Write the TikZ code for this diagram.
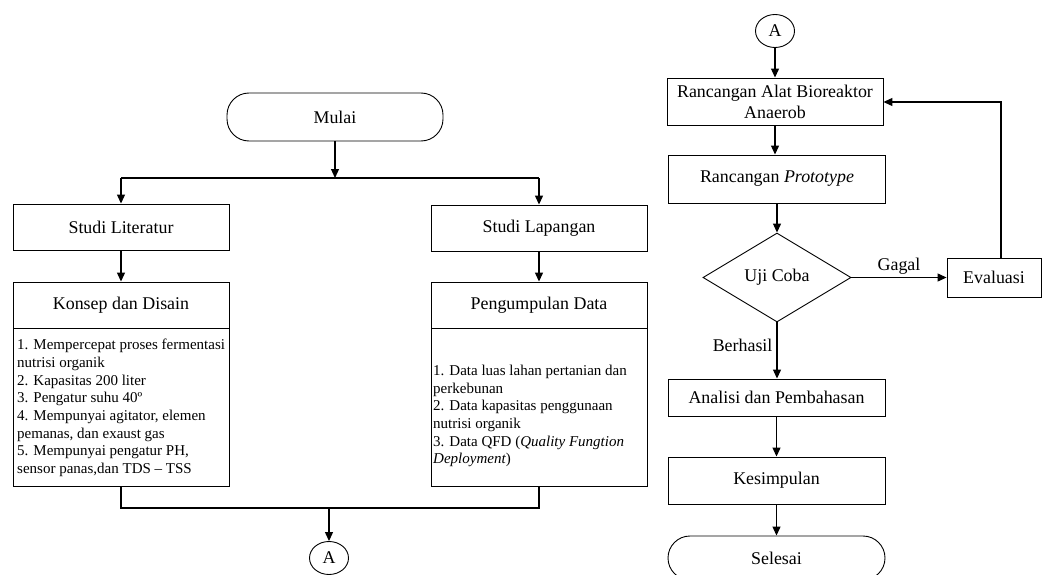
\documentclass[tikz,border=0pt]{standalone}
\usepackage{fontspec}
\setmainfont{Liberation Serif}
\usetikzlibrary{arrows.meta,shapes.geometric}
\begin{document}
\begin{tikzpicture}[x=1pt,y=-1pt,
  every node/.style={font=\fontsize{17.9}{20}\selectfont, inner sep=0pt},
  procbox/.style={draw, line width=0.9pt, rectangle, minimum width=216pt, minimum height=46pt, align=center},
  listbox/.style={draw, line width=0.9pt, rectangle, minimum width=216pt, minimum height=158pt},
  listtext/.style={font=\fontsize{15}{17.7}\selectfont, align=left, anchor=west},
  term/.style={draw, line width=0.9pt, rectangle, rounded corners=22pt, minimum width=216pt, minimum height=48pt},
  conn/.style={draw, ellipse, line width=0.9pt, minimum width=39pt, minimum height=33pt},
  dec/.style={draw, diamond, line width=0.9pt, minimum width=148pt, minimum height=89pt, aspect=1.66},
  arr/.style={line width=1.2pt, -{Triangle[length=9pt,width=8pt]}},
  ln/.style={line width=1.2pt}
]
\useasboundingbox (0,0) rectangle (1046,575);
\begin{scope}
\clip (0,0) rectangle (1046,575);
% left column
\node[term] (mulai) at (335,117) {Mulai};
\node[procbox] (slit) at (121,227) {Studi Literatur};
\node[procbox] (slap) at (539,228) {Studi Lapangan};
\node[procbox] (kons) at (121,305) {Konsep dan Disain};
\node[procbox] (peng) at (539,305) {Pengumpulan Data};
\node[listbox] (klist) at (121,407) {};
\node[listbox] (plist) at (539,407) {};
\node[listtext] (ktext) at (17,408) {1. Mempercepat proses fermentasi\\nutrisi organik\\2. Kapasitas 200 liter\\3. Pengatur suhu 40º\\4. Mempunyai agitator, elemen\\pemanas, dan exaust gas\\5. Mempunyai pengatur PH,\\sensor panas,dan TDS -- TSS};
\node[listtext] (ptext) at (433,416) {1. Data luas lahan pertanian dan\\perkebunan\\2. Data kapasitas penggunaan\\nutrisi organik\\3. Data QFD (\textit{Quality Fungtion}\\\textit{Deployment})};
\node[conn] (a1) at (329,558) {A};
\coordinate (j1) at (335,178);
\coordinate (j1l) at (121,178);
\coordinate (j1r) at (539,178);
\coordinate (j2l) at (121,508);
\coordinate (j2r) at (539,508);
\coordinate (j2) at (329,508);
\draw[arr] (mulai.south) -- (j1);
\draw[ln] (j1l) -- (j1r);
\draw[arr] (j1l) -- (slit.north);
\draw[arr] (j1r) -- (slap.north);
\draw[arr] (slit) -- (kons);
\draw[arr] (slap) -- (peng);
\draw[ln] (klist.south) -- (j2l) -- (j2r) -- (plist.south);
\draw[arr] (j2) -- (a1.north);
% right column
\node[conn] (a2) at (775,31) {A};
\node[procbox, minimum height=47pt, font=\fontsize{17.9}{21}\selectfont] (rab) at (775,101.5) {Rancangan Alat Bioreaktor\\Anaerob};
\node[procbox, minimum height=48pt, minimum width=217pt] (rp) at (777,179) {Rancangan \textit{Prototype}};
\node[dec] (uji) at (777,277.5) {Uji Coba};
\node[procbox, minimum width=94pt, minimum height=39pt] (eval) at (994,277.5) {Evaluasi};
\node[procbox, minimum width=217pt, minimum height=37pt] (anal) at (776.5,397.5) {Analisi dan Pembahasan};
\node[procbox, minimum width=217pt, minimum height=47pt] (kes) at (776.5,480.5) {Kesimpulan};
\node[term, minimum width=217pt, minimum height=44pt] (sel) at (776.5,558) {Selesai};
\coordinate (et) at (1001,258);
\coordinate (ec) at (1001,102);
\draw[arr] (a2.south) -- (rab.north);
\draw[arr] (rab.south) -- (rab.south |- rp.north);
\draw[arr] (rp.south) -- (uji.north);
\draw[arr] (uji.east) -- node[above=3pt] (gagal) {Gagal} (eval.west);
\draw[arr] (et) -- (ec) -- (rab.east |- ec);
\draw[arr] (uji.south) -- node[left=4pt, pos=0.4] (berhasil) {Berhasil} (uji.south |- anal.north);
\draw[arr] (anal.south) -- (kes.north);
\draw[arr] (kes.south) -- (sel.north);
\end{scope}
\end{tikzpicture}
\end{document}
